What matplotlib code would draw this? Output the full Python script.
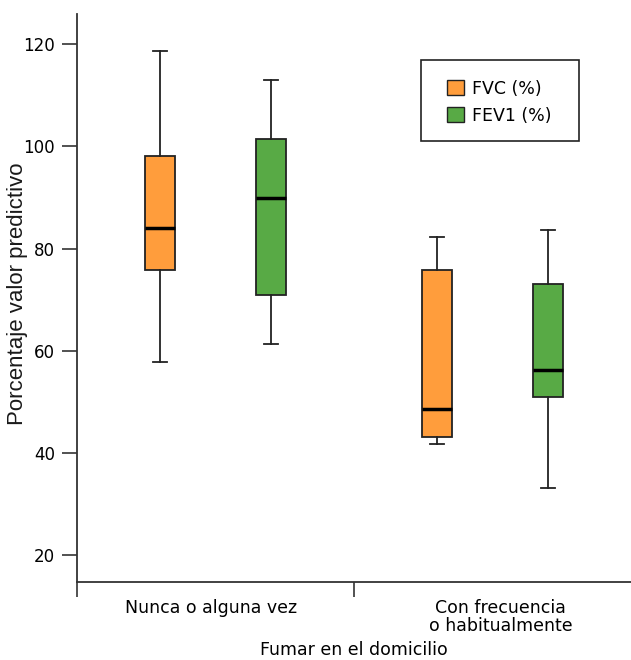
import matplotlib
matplotlib.use('Agg')
from matplotlib import pyplot as plt
from matplotlib.patches import Patch, Rectangle

categories = ['Nunca o alguna vez', 'Con frecuencia\no habitualmente']
series = ['FVC (%)', 'FEV1 (%)']
colours = ['#FF9D3C', '#58AA45']

# per series: [group1, group2] as (whislo, q1, med, q3, whishi)
fvc = [(57.8, 75.9, 84.0, 98.2, 118.7), (41.7, 43.1, 48.6, 75.8, 82.3)]
fev1 = [(61.4, 71.0, 89.9, 101.4, 113.0), (33.2, 51.0, 56.3, 73.1, 83.7)]
values = [fvc, fev1]

plt.rcParams['font.family'] = 'DejaVu Sans'
fig = plt.figure(figsize=(6.31, 6.60), dpi=100)
ax = fig.add_axes([77/631, 1 - 582.3/660, 1 - 77/631, (582.3 - 14)/660])

axis_col = '#333333'
offsets = [-0.2, 0.2]
for s, (name, col) in enumerate(zip(series, colours)):
    stats = []
    for g, v in enumerate(values[s]):
        stats.append(dict(whislo=v[0], q1=v[1], med=v[2], q3=v[3], whishi=v[4], fliers=[]))
    pos = [g + 0.5 + offsets[s] for g in range(len(categories))]
    ax.bxp(stats, positions=pos, widths=0.111, patch_artist=True, showfliers=False,
           boxprops=dict(facecolor=col, edgecolor='#222222', linewidth=1.3),
           medianprops=dict(color='black', linewidth=2.5),
           whiskerprops=dict(color='#222222', linewidth=1.3),
           capprops=dict(color='#222222', linewidth=1.3),
           capwidths=0.05, manage_ticks=False)

ax.set_xlim(0, 2)
ax.set_ylim(14.7, 125.9)
ax.set_yticks([20, 40, 60, 80, 100, 120])

ax.set_xticks([0, 1])
ax.set_xticklabels([])
ax.set_xticks([0.485, 1.53], minor=True)
ax.set_xticklabels(categories, minor=True, fontsize=12.5, linespacing=1.0)
ax.tick_params(axis='x', which='major', direction='out', length=11, width=1.2, color=axis_col)
ax.tick_params(axis='x', which='minor', length=0, pad=12)
ax.tick_params(axis='y', direction='out', length=11, width=1.2, color=axis_col, labelsize=12, pad=5)

for side in ['top', 'right']:
    ax.spines[side].set_visible(False)
for side in ['left', 'bottom']:
    ax.spines[side].set_color(axis_col)
    ax.spines[side].set_linewidth(1.3)

ax.set_xlabel('Fumar en el domicilio', fontsize=12.5, labelpad=4)
ax.set_ylabel('Porcentaje valor predictivo', fontsize=16, family='Liberation Sans',
              color='#1a1a1a')
ax.yaxis.set_label_coords(-0.088, 0.507)

# legend entries without frame, box drawn separately
handles = [Patch(facecolor=c, edgecolor='#222222', linewidth=1.0) for c in colours]
ax.legend(handles, series, loc='upper left', bbox_to_anchor=(0.668, 0.884),
          fontsize=12.5, frameon=False,
          handlelength=0.95, handleheight=0.95, handletextpad=0.5,
          borderpad=0, labelspacing=0.52, borderaxespad=0)
ax.add_patch(Rectangle((0.621, 0.7765), 0.285, 0.1425, transform=ax.transAxes,
                       facecolor='none', edgecolor='#222222', linewidth=1.2, zorder=5))

fig.savefig('out.png', dpi=100)
